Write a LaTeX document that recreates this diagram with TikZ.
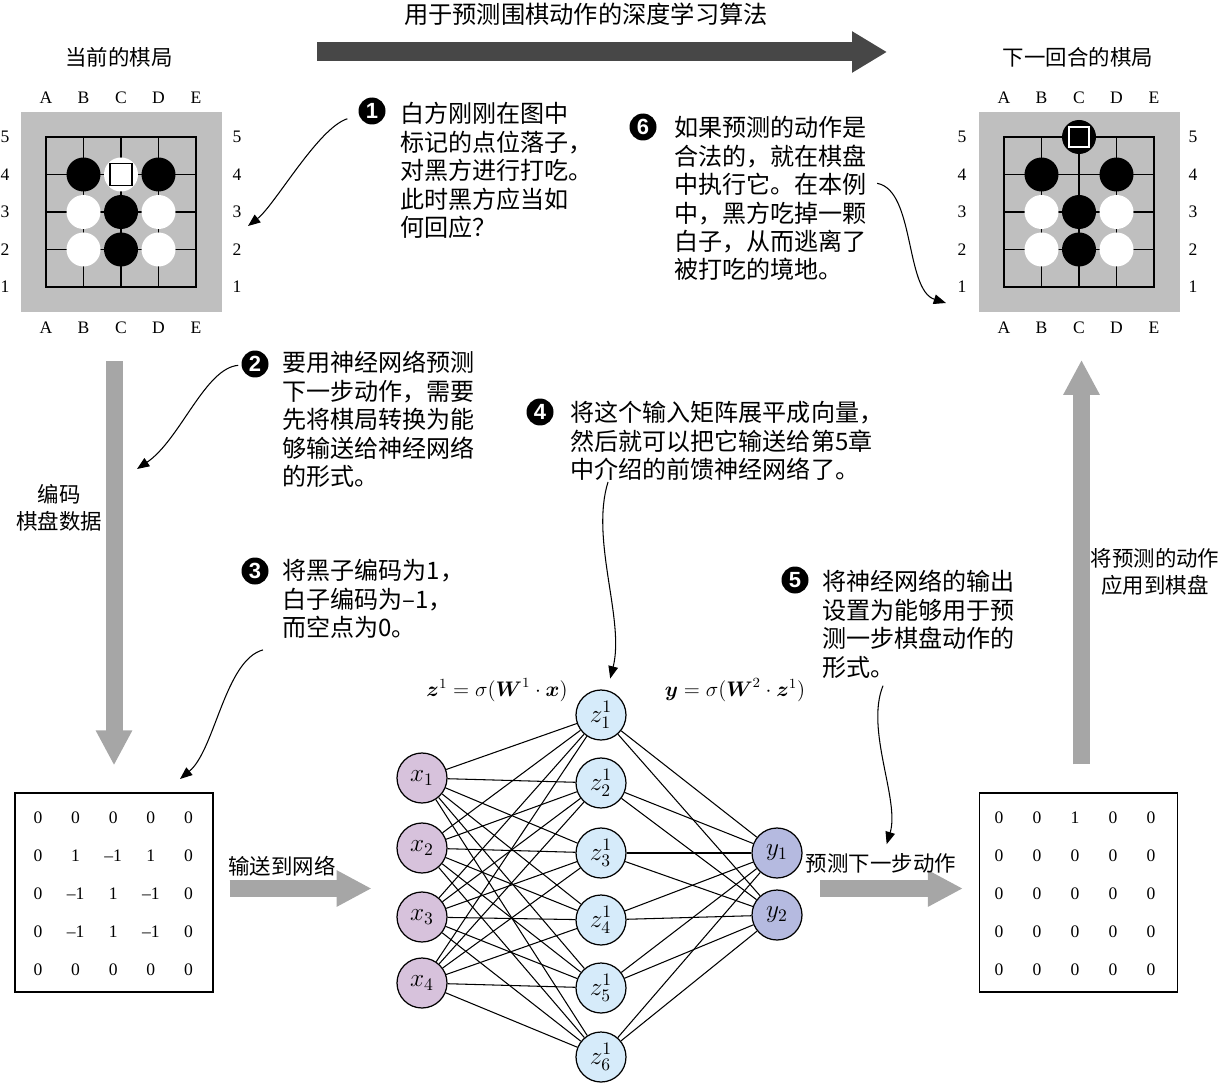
\documentclass[tikz,border=0pt]{standalone}
\usepackage{amsmath}
\usepackage{fontspec}
\setmainfont{Liberation Serif}
\newfontfamily\cjk{Noto Sans CJK SC}
\newfontfamily\numfont{Liberation Sans}
\usetikzlibrary{arrows.meta,calc,positioning}

\definecolor{boardgray}{HTML}{BFBFBF}
\definecolor{arrowgray}{HTML}{A6A6A6}
\definecolor{darkarrow}{HTML}{474747}
\definecolor{xfill}{HTML}{D7C2DC}
\definecolor{zfill}{HTML}{D6EBFA}
\definecolor{yfill}{HTML}{B5BAE0}

\tikzset{
  boardbg/.style={fill=boardgray, minimum size=4.02cm, inner sep=0pt},
  gridline/.style={line width=1.1pt, line cap=rect},
  coordlbl/.style={font=\fontsize{10}{12}\selectfont, inner sep=0pt},
  cell/.style={font=\fontsize{10}{12}\selectfont, inner sep=0pt},
  matbox/.style={draw, line width=0.7pt, minimum width=3.96cm, minimum height=3.98cm, inner sep=0pt},
  note/.style={font=\cjk\fontsize{13.7}{16.2}\selectfont, align=left, anchor=north west, inner sep=0pt},
  caption/.style={font=\cjk\fontsize{12.2}{15.6}\selectfont, align=center, inner sep=0pt},
  maintitle/.style={font=\cjk\fontsize{13.8}{16}\selectfont, inner sep=0pt},
  bullet/.style={circle, fill=black, text=white, minimum size=0.54cm, inner sep=0pt,
    font=\numfont\bfseries\fontsize{12.5}{12.5}\selectfont},
  callarrow/.style={line width=0.6pt, -{Triangle[length=7pt,width=5.5pt]}},
  fatarrow/.style={draw=arrowgray, line width=0.34cm, -{Triangle[length=0.7cm,width=0.68cm]}},
  bigarrow/.style={draw=darkarrow, line width=0.38cm, -{Triangle[length=0.7cm,width=0.78cm]}},
  neuron/.style={circle, draw, line width=0.7pt, minimum size=1cm, inner sep=0pt,
    font=\fontsize{14}{14}\selectfont},
  xneuron/.style={neuron, fill=xfill},
  zneuron/.style={neuron, fill=zfill},
  yneuron/.style={neuron, fill=yfill},
  edge/.style={line width=0.6pt},
  formula/.style={font=\fontsize{11.5}{12}\selectfont, inner sep=0pt}
}

\begin{document}
\begin{tikzpicture}[x=0.02cm,y=-0.02cm]
  \useasboundingbox (0,0) rectangle (1219,1084);

  % headings
  \node[maintitle] (ttop) at (586,14) {用于预测围棋动作的深度学习算法};
  \coordinate (flowS) at (317,52);
  \coordinate (flowE) at (887,52);
  \draw[bigarrow] (flowS) -- (flowE);
  \node[caption] (tL) at (119,57) {当前的棋局};
  \node[caption] (tR) at (1078,57) {下一回合的棋局};

  % current board
  \begin{scope}[shift={(46,287)}]
    \node[boardbg] (bdL) at (75.5,-75) {};
    \foreach \i in {0,...,4} {
      \draw[gridline] (37.5*\i,0) -- (37.5*\i,-150);
      \draw[gridline] (0,-37.5*\i) -- (150,-37.5*\i);
    }
    \foreach \l [count=\i from 0] in {A,B,C,D,E} {
      \node[coordlbl] (lLt\i) at (37.5*\i,-189) {\l};
      \node[coordlbl] (lLb\i) at (37.5*\i,41) {\l};
    }
    \foreach \r in {1,...,5} {
      \node[coordlbl] (lLl\r) at (-41,-37.5*\r+37.5) {\r};
      \node[coordlbl] (lLr\r) at (191,-37.5*\r+37.5) {\r};
    }
    \foreach \c/\r in {1/3,3/3,2/2,2/1}
      \fill[black] (37.5*\c,-37.5*\r) circle[radius=17];
    \foreach \c/\r in {1/2,3/2,1/1,3/1,2/3}
      \fill[white] (37.5*\c,-37.5*\r) circle[radius=17];
    \draw[line width=0.9pt, fill=white] (64,-101.5) rectangle (86,-123.5);
  \end{scope}

  % next board
  \begin{scope}[shift={(1004,287)}]
    \node[boardbg] (bdR) at (75.5,-75) {};
    \foreach \i in {0,...,4} {
      \draw[gridline] (37.5*\i,0) -- (37.5*\i,-150);
      \draw[gridline] (0,-37.5*\i) -- (150,-37.5*\i);
    }
    \foreach \l [count=\i from 0] in {A,B,C,D,E} {
      \node[coordlbl] (lRt\i) at (37.5*\i,-189) {\l};
      \node[coordlbl] (lRb\i) at (37.5*\i,41) {\l};
    }
    \foreach \r in {1,...,5} {
      \node[coordlbl] (lRl\r) at (-42,-37.5*\r+37.5) {\r};
      \node[coordlbl] (lRr\r) at (189,-37.5*\r+37.5) {\r};
    }
    \foreach \c/\r in {2/4,1/3,3/3,2/2,2/1}
      \fill[black] (37.5*\c,-37.5*\r) circle[radius=17];
    \foreach \c/\r in {1/2,3/2,1/1,3/1}
      \fill[white] (37.5*\c,-37.5*\r) circle[radius=17];
    \draw[white, line width=1.1pt, fill=black] (65,-140) rectangle (85,-160);
  \end{scope}

  % matrices
  \node[matbox] (mL) at (114,892.5) {};
  \foreach \row [count=\j from 0] in {{0,0,0,0,0},{0,1,–1,1,0},{0,–1,1,–1,0},{0,–1,1,–1,0},{0,0,0,0,0}}
    \foreach \v [count=\i from 0] in \row
      \node[cell] (mL-\j-\i) at (38+37.6*\i,818+37.9*\j) {\v};
  \node[matbox] (mR) at (1078.5,892.5) {};
  \foreach \row [count=\j from 0] in {{0,0,1,0,0},{0,0,0,0,0},{0,0,0,0,0},{0,0,0,0,0},{0,0,0,0,0}}
    \foreach \v [count=\i from 0] in \row
      \node[cell] (mR-\j-\i) at (999+38*\i,818+37.9*\j) {\v};

  % network
  \foreach \i/\y in {1/778,2/848,3/917,4/983}
    \node[xneuron] (x\i) at (422,\y) {$x_{\i}$};
  \foreach \i/\y in {1/715,2/783,3/853,4/920,5/988,6/1057}
    \node[zneuron] (z\i) at (601,\y) {$z^{1}_{\i}$};
  \foreach \i/\y in {1/853,2/915}
    \node[yneuron] (y\i) at (777,\y) {$y_{\i}$};
  \foreach \i in {1,...,4}
    \foreach \j in {1,...,6}
      \draw[edge] (x\i) -- (z\j);
  \foreach \j in {1,...,6}
    \foreach \k in {1,2}
      \draw[edge] (z\j) -- (y\k);
  \node[formula] (f1) at (497,690) {$\boldsymbol{z}^{1}=\sigma(\boldsymbol{W}^{1}\cdot\boldsymbol{x})$};
  \node[formula] (f2) at (735,690) {$\boldsymbol{y}=\sigma(\boldsymbol{W}^{2}\cdot\boldsymbol{z}^{1})$};

  % fat arrows
  \draw[fatarrow] ($(mL.north)+(0,-431)$) -- ($(mL.north)+(0,-27)$);
  \node[caption] (lenc) at (59,508) {编码\\棋盘数据};
  \draw[fatarrow] ($(mL.east)+(16,-4)$) -- ($(mL.east)+(158,-4)$);
  \node[caption] (lsend) at (282,866) {输送到网络};
  \draw[fatarrow] ($(mR.west)+(-159,-4)$) -- ($(mR.west)+(-16,-4)$);
  \node[caption] (lpred) at (881,863) {预测下一步动作};
  \draw[fatarrow] ($(mR.north)+(3,-28)$) -- ($(bdR.south)+(2,47)$);
  \node[caption] (lapply) at (1155,572) {将预测的动作\\应用到棋盘};

  % callouts
  \node[bullet] (b1) at (372,111) {1};
  \node[note] (t1) at (400,102) {白方刚刚在图中\\标记的点位落子，\\对黑方进行打吃。\\此时黑方应当如\\何回应？};
  \node[bullet] (b6) at (643,127) {6};
  \node[note] (t6) at (674,116) {如果预测的动作是\\合法的，就在棋盘\\中执行它。在本例\\中，黑方吃掉一颗\\白子，从而逃离了\\被打吃的境地。};
  \node[bullet] (b2) at (255,364) {2};
  \node[note] (t2) at (282,351) {要用神经网络预测\\下一步动作，需要\\先将棋局转换为能\\够输送给神经网络\\的形式。};
  \node[bullet] (b3) at (255,571) {3};
  \node[note] (t3) at (282,559) {将黑子编码为1，\\白子编码为–1，\\而空点为0。};
  \node[bullet] (b4) at (540,412) {4};
  \node[note] (t4) at (570,401) {将这个输入矩阵展平成向量，\\然后就可以把它输送给第5章\\中介绍的前馈神经网络了。};
  \node[bullet] (b5) at (795,580) {5};
  \node[note] (t5) at (822,570) {将神经网络的输出\\设置为能够用于预\\测一步棋盘动作的\\形式。};

  \coordinate (p1) at (248,226);
  \coordinate (p6) at (946,303);
  \coordinate (p2) at (137,469);
  \coordinate (p3) at (180,779);
  \coordinate (s3) at ($(t3.south west)+(-19,11)$);
  \coordinate (s4) at ($(t4.south west)+(38,1)$);
  \coordinate (s5) at ($(t5.south west)+(61,7)$);

  \draw[callarrow, shorten <=0.24cm] (b1) .. controls (318,128) and (275,205) .. (p1);
  \draw[callarrow, shorten <=0.2cm] (t6.10) .. controls (915,190) and (905,290) .. (p6);
  \draw[callarrow, shorten <=0.06cm] (b2) .. controls (205,368) and (180,440) .. (p2);
  \draw[callarrow] (s3) .. controls (225,660) and (215,750) .. (p3);
  \draw[callarrow, shorten >=0.24cm] (s4) .. controls (590,540) and (625,620) .. (z1);
  \draw[callarrow, shorten >=0.18cm] (s5) .. controls (865,730) and (900,800) .. (lpred);
\end{tikzpicture}
\end{document}
